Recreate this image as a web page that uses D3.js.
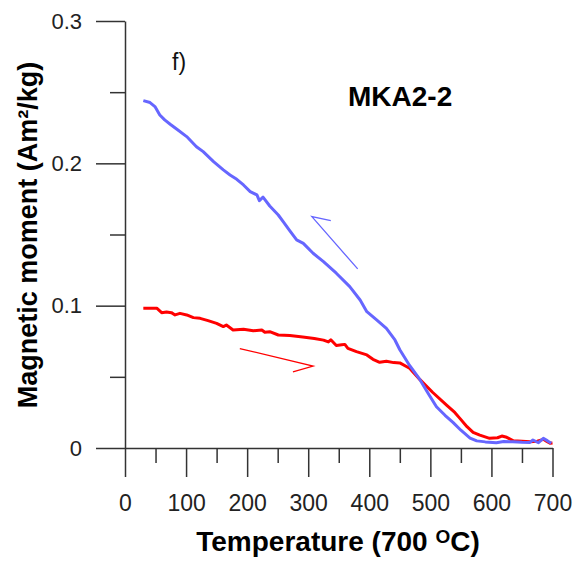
<!DOCTYPE html>
<html>
<head>
<meta charset="utf-8">
<script src="https://cdn.jsdelivr.net/npm/d3@7"></script>
<style>
  body { margin: 0; background: #fff; }
  text { font-family: "Liberation Sans", Arial, sans-serif; }
</style>
</head>
<body>
<div id="chart"></div>
<script>
// heating curve (red)
const heatT = [30, 52, 60, 68, 76, 82, 90, 101, 112, 123, 136, 150, 161, 166, 177, 194, 210, 224, 229, 237, 251, 270, 291, 310, 325, 333, 337, 346, 355, 360, 365, 379, 396, 406, 417, 428, 440, 450, 466, 483, 504, 527, 540, 548, 560, 570, 581, 597, 610, 617, 625, 636, 650, 663, 675, 685, 690, 696, 700];
const heatM = [0.0982, 0.0982, 0.0951, 0.0956, 0.0951, 0.0935, 0.0946, 0.0935, 0.0916, 0.0911, 0.0895, 0.0876, 0.0853, 0.0864, 0.0829, 0.0834, 0.0824, 0.0829, 0.0813, 0.0817, 0.0794, 0.0790, 0.0780, 0.0770, 0.0758, 0.0745, 0.0760, 0.0720, 0.0725, 0.0728, 0.0700, 0.0677, 0.0654, 0.0623, 0.0602, 0.0610, 0.0600, 0.0598, 0.0560, 0.0480, 0.0390, 0.0300, 0.0250, 0.0210, 0.0150, 0.0110, 0.0090, 0.0068, 0.0072, 0.0084, 0.0075, 0.0051, 0.0048, 0.0044, 0.0048, 0.0061, 0.0048, 0.0033, 0.0035];

// cooling curve (blue)
const coolT = [30, 41, 49, 57, 65, 74, 85, 101, 117, 128, 145, 161, 172, 183, 194, 205, 216, 220, 226, 237, 251, 259, 270, 281, 292, 308, 325, 346, 368, 385, 396, 412, 428, 442, 450, 466, 483, 497, 510, 524, 537, 550, 565, 576, 590, 608, 620, 635, 650, 663, 668, 677, 685, 692, 698];
const coolM = [0.2441, 0.2427, 0.2399, 0.2340, 0.2305, 0.2275, 0.2240, 0.2188, 0.2117, 0.2082, 0.2012, 0.1954, 0.1918, 0.1888, 0.1848, 0.1801, 0.1778, 0.1738, 0.1762, 0.1700, 0.1637, 0.1590, 0.1525, 0.1462, 0.1438, 0.1368, 0.1309, 0.1228, 0.1134, 0.1040, 0.0958, 0.0900, 0.0841, 0.0759, 0.0690, 0.0580, 0.0480, 0.0380, 0.0290, 0.0230, 0.0180, 0.0125, 0.0070, 0.0050, 0.0043, 0.0037, 0.0045, 0.0044, 0.0040, 0.0039, 0.0056, 0.0037, 0.0068, 0.0050, 0.0033];

const xTicks = [0, 100, 200, 300, 400, 500, 600, 700];
const xMinor = [50, 150, 250, 350, 450, 550, 650];
const yTicks = [0, 0.1, 0.2, 0.3];
const yMinor = [0.05, 0.15, 0.25];

// arrows: [tail, tip, barb] in data units (T, M)
const arrowCool = [[381, 0.1258], [306, 0.1626], [337, 0.1597]];
const arrowHeat = [[188, 0.0699], [308, 0.0576], [275, 0.0534]];

const width = 582, height = 561;

const svg = d3.select("#chart").append("svg")
    .attr("width", width)
    .attr("height", height);

const x = d3.scaleLinear().domain([0, 700]).range([125, 552.5]);
const y = d3.scaleLinear().domain([0, 0.3]).range([448, 21]);

// x axis
const xAxis = svg.append("g")
    .attr("transform", `translate(0,${y(0)})`)
    .call(d3.axisBottom(x).tickValues(xTicks).tickSizeInner(29).tickSizeOuter(0).tickPadding(18).tickFormat(d3.format("d")));
svg.append("g")
    .attr("transform", `translate(0,${y(0)})`)
    .call(d3.axisBottom(x).tickValues(xMinor).tickSizeInner(15).tickSizeOuter(0).tickFormat(""))
    .select(".domain").remove();

// y axis
const yAxis = svg.append("g")
    .attr("transform", `translate(${x(0)},0)`)
    .call(d3.axisLeft(y).tickValues(yTicks).tickSizeInner(29).tickSizeOuter(0).tickPadding(14).tickFormat(d => d === 0 ? "0" : d3.format(".1f")(d)));
svg.append("g")
    .attr("transform", `translate(${x(0)},0)`)
    .call(d3.axisLeft(y).tickValues(yMinor).tickSizeInner(15).tickSizeOuter(0).tickFormat(""))
    .select(".domain").remove();

svg.selectAll(".domain, .tick line")
    .attr("stroke", "#333")
    .attr("stroke-width", 1.5);
xAxis.selectAll("text")
    .attr("font-family", "Liberation Sans, Arial, sans-serif")
    .attr("font-size", 23)
    .attr("fill", "#222");
yAxis.selectAll("text")
    .attr("font-family", "Liberation Sans, Arial, sans-serif")
    .attr("font-size", 22)
    .attr("fill", "#222");

// curves
const line = d3.line()
    .x(d => x(d[0]))
    .y(d => y(d[1]))
    .curve(d3.curveLinear);

svg.append("path")
    .datum(heatT.map((t, i) => [t, heatM[i]]))
    .attr("d", line)
    .attr("fill", "none")
    .attr("stroke", "#ff0000")
    .attr("stroke-width", 3)
    .attr("stroke-linejoin", "round");

svg.append("path")
    .datum(coolT.map((t, i) => [t, coolM[i]]))
    .attr("d", line)
    .attr("fill", "none")
    .attr("stroke", "#6666ff")
    .attr("stroke-width", 3)
    .attr("stroke-linejoin", "round");

// direction arrows
[[arrowCool, "#6666ff"], [arrowHeat, "#ff0000"]].forEach(([pts, col]) => {
    svg.append("path")
        .datum(pts)
        .attr("d", line)
        .attr("fill", "none")
        .attr("stroke", col)
        .attr("stroke-width", 1.3);
});

// labels
svg.append("text")
    .attr("x", 172)
    .attr("y", 70)
    .attr("font-size", 23)
    .attr("fill", "#111")
    .text("f)");

svg.append("text")
    .attr("x", 348)
    .attr("y", 106)
    .attr("font-size", 28)
    .attr("font-weight", "bold")
    .attr("fill", "#000")
    .text("MKA2-2");

const xt = svg.append("text")
    .attr("x", 338)
    .attr("y", 551)
    .attr("text-anchor", "middle")
    .attr("font-size", 28)
    .attr("font-weight", "bold")
    .attr("fill", "#000");
xt.append("tspan").text("Temperature (700 ");
xt.append("tspan").attr("font-size", 19).attr("dy", -8).text("O");
xt.append("tspan").attr("dy", 8).text("C)");

svg.append("text")
    .attr("transform", "translate(37,235) rotate(-90)")
    .attr("text-anchor", "middle")
    .attr("font-size", 27)
    .attr("font-weight", "bold")
    .attr("fill", "#000")
    .text("Magnetic moment (Am²/kg)");
</script>
</body>
</html>
